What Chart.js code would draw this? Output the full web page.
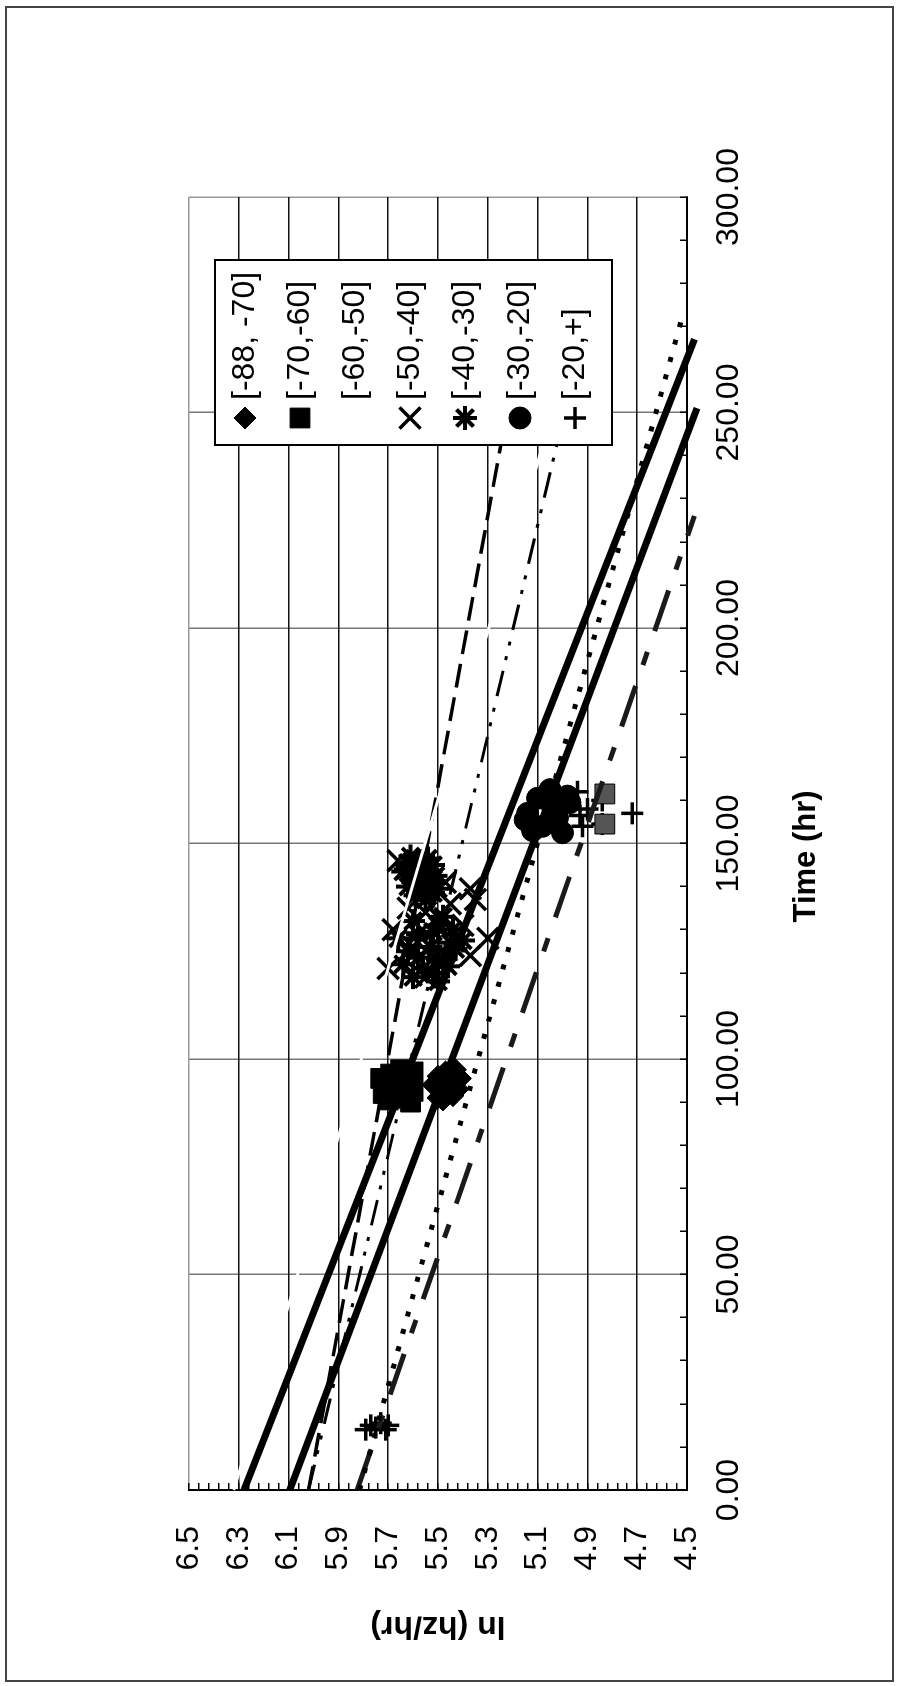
<!DOCTYPE html>
<html>
<head>
<meta charset="utf-8">
<script src="https://cdn.jsdelivr.net/npm/chart.js@4.4.1/dist/chart.umd.min.js"></script>
<style>
  html, body { margin: 0; padding: 0; background: #fff; overflow: hidden; }
  #frame { position: absolute; left: 5px; top: 6px; width: 885px; height: 1672px; border: 2px solid #444; }
  /* the chart is drawn landscape and turned a quarter to the left */
  #turn { position: absolute; left: 0; top: 0; width: 1686px; height: 899px;
          transform-origin: 0 0; transform: translateY(1686px) rotate(-90deg); }
  canvas { display: block; }
</style>
</head>
<body>
<div id="frame"></div>
<div id="turn"><canvas id="chart" width="1686" height="899"></canvas></div>
<script>
const seriesLabels = ['[-88, -70]', '[-70,-60]', '[-60,-50]', '[-50,-40]', '[-40,-30]', '[-30,-20]', '[-20,+]'];

// measured points, time (hr) and ln (hz/hr)
const d88Time = [91, 92.5, 94, 95.5, 97, 93, 96, 91.5, 94.5, 90.5, 97.5];
const d88Ln   = [5.50, 5.46, 5.52, 5.41, 5.47, 5.42, 5.50, 5.44, 5.45, 5.48, 5.43];
const d70Time = [90.5, 91.5, 93, 94.5, 96, 97, 92, 95, 90, 96.5, 92.5, 95.5, 97.5, 161.5, 154.5];
const d70Ln   = [5.70, 5.64, 5.68, 5.62, 5.66, 5.60, 5.72, 5.70, 5.61, 5.69, 5.60, 5.73, 5.65, 4.83, 4.83];
const d60Time = [];
const d60Ln   = [];
const d50Time = [121, 130, 124, 128, 139.5, 126, 133, 136, 119, 143, 146, 131, 134, 122, 127, 135, 141, 137];
const d50Ln   = [5.70, 5.68, 5.37, 5.30, 5.37, 5.60, 5.50, 5.45, 5.55, 5.60, 5.66, 5.40, 5.55, 5.50, 5.58, 5.62, 5.47, 5.35];
const d40Time = [146, 145, 144, 143, 142, 141, 140, 139, 138, 147, 146.5, 144.5, 142.5, 140.5, 138.5, 145.5, 143.5, 141.5, 139.5, 137,
                 131, 129, 127, 125, 123, 121, 130, 126, 122, 128, 124, 132, 120, 119, 133, 127.5, 125.5, 121.5, 129.5, 123.5, 118];
const d40Ln   = [5.58, 5.52, 5.63, 5.55, 5.60, 5.53, 5.62, 5.56, 5.59, 5.61, 5.54, 5.57, 5.51, 5.58, 5.52, 5.62, 5.64, 5.60, 5.50, 5.55,
                 5.50, 5.58, 5.45, 5.62, 5.50, 5.56, 5.44, 5.53, 5.64, 5.66, 5.47, 5.60, 5.52, 5.60, 5.48, 5.40, 5.43, 5.46, 5.52, 5.58, 5.50];
const d30Time = [162.5, 160.5, 161, 158.5, 157, 155.5, 154, 153, 152.5, 159.5, 156];
const d30Ln   = [5.05, 5.10, 4.98, 5.04, 5.14, 5.15, 5.08, 5.12, 5.00, 4.97, 5.02];
const d20Time = [14, 15, 14.5, 15.5, 14, 15, 157, 156.5, 154, 160, 154.5, 162, 158];
const d20Ln   = [5.79, 5.77, 5.75, 5.73, 5.71, 5.70, 4.72, 4.93, 4.92, 4.84, 4.84, 4.94, 4.90];

// linear trend lines, [start, end]
const trendTime = [[0, 251], [0, 267], [0, 250], [0, 270], [0, 270], [0, 272], [0, 226]];
const trendLn   = [[6.095, 4.46], [6.279, 4.47], [6.32, 5.04], [6.02, 4.91], [6.02, 5.16], [5.815, 4.52], [5.825, 4.47]];

const pointTimes = [d88Time, d70Time, d60Time, d50Time, d40Time, d30Time, d20Time];
const pointLns = [d88Ln, d70Ln, d60Ln, d50Ln, d40Ln, d30Ln, d20Ln];

const markerStyles = [
  {style: 'rectRot', radius: 11, fill: '#000', stroke: '#000', width: 1},
  {style: 'rect', radius: 14, fill: '#000', stroke: '#000', width: 1},
  {style: 'rect', radius: 14, fill: '#fff', stroke: '#fff', width: 1},
  {style: 'crossRot', radius: 15, fill: '#000', stroke: '#000', width: 3.5},
  {style: 'star', radius: 12, fill: '#000', stroke: '#000', width: 4},
  {style: 'circle', radius: 11, fill: '#000', stroke: '#000', width: 1},
  {style: 'cross', radius: 11, fill: '#000', stroke: '#000', width: 3.5}
];
const trendStyles = [
  {color: '#000', width: 7, dash: []},
  {color: '#000', width: 7, dash: []},
  {color: '#fff', width: 3, dash: []},
  {color: '#000', width: 3, dash: [26, 11, 4, 11, 4, 12]},
  {color: '#000', width: 3.5, dash: [24, 10]},
  {color: '#000', width: 5, dash: [5, 13]},
  {color: '#1a1a1a', width: 5, dash: [43, 22, 14, 22]}
];

Chart.defaults.font.family = '"Liberation Sans", Arial, sans-serif';
Chart.defaults.font.size = 32;
Chart.defaults.color = '#000';

// ln ticks every 0.04 from 4.5, labelled every 0.2
function lnMajor(v) {
  const k = (v - 4.5) * 5;
  return Math.abs(k - Math.round(k)) < 1e-6;
}

const datasets = [];
seriesLabels.forEach((label, i) => {
  const m = markerStyles[i];
  datasets.push({
    label: label,
    data: pointTimes[i].map((t, k) => ({x: t, y: pointLns[i][k]})),
    showLine: false,
    pointStyle: m.style,
    pointRadius: m.radius,
    pointBorderWidth: m.width,
    pointBorderColor: m.stroke,
    // the later squares print as a grey tone
    pointBackgroundColor: i === 1 ? (c => (c.raw && c.raw.x > 120 ? '#555' : m.fill)) : m.fill,
    order: 2
  });
});
seriesLabels.forEach((label, i) => {
  const s = trendStyles[i];
  datasets.push({
    label: label + ' trend',
    data: trendTime[i].map((t, k) => ({x: t, y: trendLn[i][k]})),
    showLine: true,
    pointRadius: 0,
    borderColor: s.color,
    borderWidth: s.width,
    borderDash: s.dash,
    clip: false,
    order: i === 2 ? 0 : 1
  });
});

// legend box sitting inside the plot
const boxLegend = {
  id: 'boxLegend',
  afterDatasetsDraw(chart) {
    const ctx = chart.ctx;
    const left = 1241, top = 215, w = 185, h = 397;
    ctx.save();
    ctx.fillStyle = '#fff';
    ctx.fillRect(left, top, w, h);
    ctx.strokeStyle = '#000';
    ctx.lineWidth = 2;
    ctx.strokeRect(left, top, w, h);
    seriesLabels.forEach((label, i) => {
      const m = markerStyles[i];
      const y = top + 30 + i * 55;
      ctx.fillStyle = m.fill;
      ctx.strokeStyle = m.stroke;
      ctx.lineWidth = m.width;
      Chart.helpers.drawPoint(ctx, {pointStyle: m.style, radius: m.radius, borderWidth: m.width, rotation: 0}, 1268, y);
      ctx.fillStyle = '#000';
      ctx.font = '32px "Liberation Sans", Arial, sans-serif';
      ctx.textAlign = 'left';
      ctx.textBaseline = 'middle';
      ctx.fillText(label, 1286, y);
    });
    ctx.restore();
  }
};

new Chart(document.getElementById('chart'), {
  type: 'scatter',
  data: { datasets: datasets },
  plugins: [boxLegend],
  options: {
    responsive: false,
    animation: false,
    devicePixelRatio: 1,
    events: [],
    layout: { padding: {left: 0, right: 197, top: 189, bottom: 0} },
    plugins: { legend: {display: false}, tooltip: {enabled: false} },
    scales: {
      x: {
        type: 'linear', min: 0, max: 300,
        afterFit: s => { s.height = 212; },
        border: {color: '#000', width: 2},
        grid: {
          color: c => {
            const v = c.tick ? c.tick.value : 0;
            if (v === 300) return '#999';
            return v % 50 === 0 ? '#777' : 'rgba(0,0,0,0)';
          },
          lineWidth: 1.5, tickColor: '#000', tickWidth: 1.5, tickLength: -7
        },
        ticks: {
          stepSize: 10, maxTicksLimit: 100, autoSkip: false, maxRotation: 0, padding: 30,
          callback: v => (v % 50 === 0 ? v.toFixed(2) : '')
        },
        title: { display: true, text: 'Time (hr)   ', font: {size: 31, weight: 'bold'}, padding: {top: 0, bottom: 74} }
      },
      y: {
        type: 'linear', min: 4.5, max: 6.5,
        afterFit: s => { s.width = 196; },
        border: {color: '#000', width: 2},
        grid: {
          color: c => {
            const v = c.tick ? c.tick.value : 0;
            if (!lnMajor(v)) return 'rgba(0,0,0,0)';
            return Math.abs(v - 6.5) < 1e-6 ? '#999' : '#111';
          },
          lineWidth: 1.5, tickColor: '#000', tickWidth: 1.5, tickLength: -7
        },
        ticks: {
          stepSize: 0.04, maxTicksLimit: 100, autoSkip: false, padding: 43,
          callback: v => (lnMajor(v) ? v.toFixed(1) : '')
        },
        title: { display: true, text: 'ln (hz/hr)', font: {size: 32, weight: 'bold'}, padding: {top: 41, bottom: 0} }
      }
    }
  }
});
</script>
</body>
</html>
